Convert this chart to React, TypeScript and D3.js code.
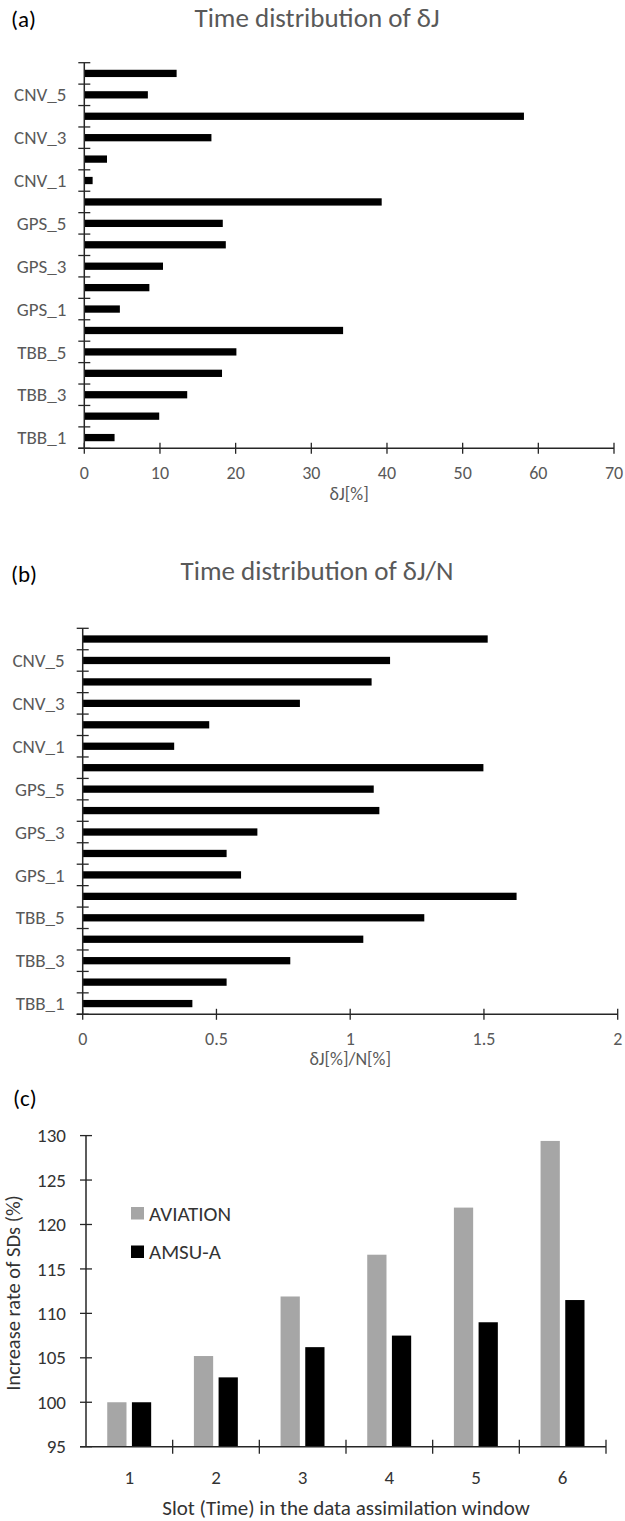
import React from "react";
import * as d3 from "d3";

// ---------- DATA ----------
const categories = [
  "TBB_1", "TBB_2", "TBB_3", "TBB_4", "TBB_5", "TBB_6",
  "GPS_1", "GPS_2", "GPS_3", "GPS_4", "GPS_5", "GPS_6",
  "CNV_1", "CNV_2", "CNV_3", "CNV_4", "CNV_5", "CNV_6",
];
const deltaJ = [
  4.0, 9.9, 13.6, 18.2, 20.1, 34.2,
  4.7, 8.6, 10.4, 18.7, 18.3, 39.3,
  1.1, 3.0, 16.8, 58.1, 8.4, 12.2,
];
const deltaJperN = [
  0.41, 0.538, 0.776, 1.049, 1.277, 1.622,
  0.592, 0.538, 0.653, 1.109, 1.088, 1.498,
  0.342, 0.473, 0.812, 1.08, 1.149, 1.514,
];
const ticksA = [0, 10, 20, 30, 40, 50, 60, 70];
const ticksB = [0, 0.5, 1, 1.5, 2];
const tickLabelsB = ["0", "0.5", "1", "1.5", "2"];

const slots = ["1", "2", "3", "4", "5", "6"];
const seriesC = ["AVIATION", "AMSU-A"];
const aviation = [100, 105.2, 111.9, 116.6, 121.9, 129.4];
const amsuA = [100, 102.8, 106.2, 107.5, 109.0, 111.5];
const ticksC = [95, 100, 105, 110, 115, 120, 125, 130];

const FONT = "Carlito, Lato, 'Open Sans', sans-serif";
const GREY_TXT = "#595959";
const AXIS = "#262626";

function HBarPanel(props: {
  values: number[];
  domain: [number, number];
  xRange: [number, number];
  yRange: [number, number];
  ticks: number[];
  tickLabels: string[];
  xLabel: string;
  letter: string;
  title: string;
  letterY: number;
  titleY: number;
  xLabelY: number;
}) {
  const { values, domain, xRange, yRange, ticks, tickLabels, xLabel, letter, title, letterY, titleY, xLabelY } = props;
  const x = d3.scaleLinear().domain(domain).range(xRange);
  const y = d3.scaleBand<string>().domain([...categories].reverse()).range(yRange).padding(0);
  const bw = y.bandwidth();
  const barH = bw * 0.34;
  const x0 = x(0);
  const yBase = yRange[1];
  const boundaries = [...categories.map((c) => y(c)!), yBase];
  return (
    <g>
      <text x={11} y={letterY} fontFamily={FONT} fontSize={23} fill="#000">{letter}</text>
      <text x={317} y={titleY} fontFamily={FONT} fontSize={27} fill={GREY_TXT} textAnchor="middle">{title}</text>
      {categories.map((c, i) => (
        <rect key={c} x={x0} y={y(c)! + (bw - barH) / 2} width={x(values[i]) - x0} height={barH} fill="#000" />
      ))}
      {/* y axis */}
      <line x1={x0} x2={x0} y1={yRange[0]} y2={yBase} stroke={AXIS} strokeWidth={1.5} />
      {boundaries.map((b, i) => (
        <line key={"yt" + i} x1={x0 - 6} x2={x0 + 6} y1={b} y2={b} stroke={AXIS} strokeWidth={1.3} />
      ))}
      {categories.map((c, i) =>
        i % 2 === 0 ? (
          <text key={"yl" + c} x={x0 - 18} y={y(c)! + bw / 2} dy="0.35em" textAnchor="end" fontFamily={FONT} fontSize={19} fill={GREY_TXT}>
            {c}
          </text>
        ) : null
      )}
      {/* x axis */}
      <line x1={x0 - 6} x2={xRange[1]} y1={yBase} y2={yBase} stroke={AXIS} strokeWidth={1.5} />
      {ticks.map((t, i) => (
        <g key={"xt" + t}>
          <line x1={x(t)} x2={x(t)} y1={yBase - 5.5} y2={yBase + 5.5} stroke={AXIS} strokeWidth={1.3} />
          <text x={x(t)} y={yBase + 24} dy="0.35em" textAnchor="middle" fontFamily={FONT} fontSize={18} fill={GREY_TXT}>
            {tickLabels[i]}
          </text>
        </g>
      ))}
      <text x={(xRange[0] + xRange[1]) / 2} y={xLabelY} dy="0.35em" textAnchor="middle" fontFamily={FONT} fontSize={18} fill={GREY_TXT}>
        {xLabel}
      </text>
    </g>
  );
}

function BarPanelC() {
  const x = d3.scaleBand<string>().domain(slots).range([86, 606]).padding(0);
  const bw = x.bandwidth();
  const sub = d3.scaleBand<string>().domain(seriesC).range([0.245 * bw, 0.752 * bw]).paddingInner(0.22).paddingOuter(0);
  const y = d3.scaleLinear().domain([95, 130]).range([1446.7, 1135.6]);
  const colors: Record<string, string> = { AVIATION: "#a6a6a6", "AMSU-A": "#000" };
  const data: Record<string, number[]> = { AVIATION: aviation, "AMSU-A": amsuA };
  const yBase = y(95);
  const TXT = "#333";
  return (
    <g>
      <text x={13} y={1106} fontFamily={FONT} fontSize={23} fill="#000">(c)</text>
      {seriesC.map((s) =>
        slots.map((sl, i) => (
          <rect key={s + sl} x={x(sl)! + sub(s)!} y={y(data[s][i])} width={sub.bandwidth()} height={yBase - y(data[s][i])} fill={colors[s]} />
        ))
      )}
      {/* y axis */}
      <line x1={86} x2={86} y1={y(130)} y2={yBase} stroke={AXIS} strokeWidth={1.5} />
      {ticksC.map((t) => (
        <g key={"yt" + t}>
          <line x1={80} x2={92} y1={y(t)} y2={y(t)} stroke={AXIS} strokeWidth={1.3} />
          <text x={66} y={y(t)} dy="0.35em" textAnchor="end" fontFamily={FONT} fontSize={19} fill={TXT}>{t}</text>
        </g>
      ))}
      {/* x axis */}
      <line x1={80} x2={606} y1={yBase} y2={yBase} stroke={AXIS} strokeWidth={1.5} />
      {[...slots.map((s) => x(s)!), 606].map((b, i) =>
        i === 0 ? null : <line key={"xt" + i} x1={b} x2={b} y1={yBase - 7} y2={yBase + 7} stroke={AXIS} strokeWidth={1.3} />
      )}
      {slots.map((s) => (
        <text key={"xl" + s} x={x(s)! + bw / 2} y={1477} dy="0.35em" textAnchor="middle" fontFamily={FONT} fontSize={19} fill={TXT}>{s}</text>
      ))}
      <text x={346} y={1508} dy="0.35em" textAnchor="middle" fontFamily={FONT} fontSize={21} fill={TXT}>
        Slot (Time) in the data assimilation window
      </text>
      <text transform="translate(13,1293) rotate(-90)" dy="0.35em" textAnchor="middle" fontFamily={FONT} fontSize={20.5} fill={TXT}>
        Increase rate of SDs (%)
      </text>
      {/* legend */}
      {seriesC.map((s, i) => (
        <g key={"lg" + s} transform={`translate(131,${1207 + i * 38.5})`}>
          <rect x={0} y={0} width={13} height={12.5} fill={colors[s]} />
          <text x={18} y={6.5} dy="0.35em" fontFamily={FONT} fontSize={21} fill={TXT}>{s}</text>
        </g>
      ))}
    </g>
  );
}

export default function App() {
  return (
    <svg width={625} height={1521} style={{ position: "absolute", left: 0, top: 0, background: "#fff" }}>
      <rect x={0} y={0} width={625} height={1521} fill="#fff" />
      <HBarPanel
        values={deltaJ}
        domain={[0, 70]}
        xRange={[84.3, 614]}
        yRange={[62.7, 448.3]}
        ticks={ticksA}
        tickLabels={ticksA.map(String)}
        xLabel="δJ[%]"
        letter="(a)"
        title="Time distribution of δJ"
        letterY={27}
        titleY={27}
        xLabelY={494}
      />
      <HBarPanel
        values={deltaJperN}
        domain={[0, 2]}
        xRange={[82.7, 617.7]}
        yRange={[628.3, 1014.3]}
        ticks={ticksB}
        tickLabels={tickLabelsB}
        xLabel="δJ[%]/N[%]"
        letter="(b)"
        title="Time distribution of δJ/N"
        letterY={582}
        titleY={580}
        xLabelY={1059}
      />
      <BarPanelC />
    </svg>
  );
}
